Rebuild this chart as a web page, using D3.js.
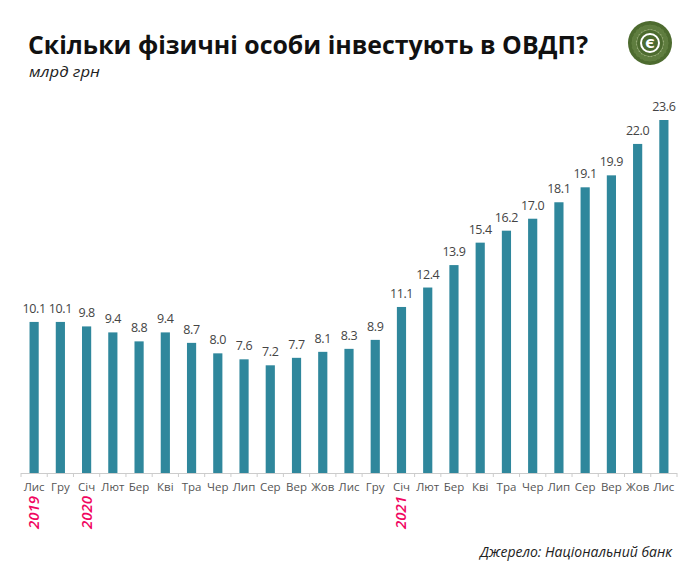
<!DOCTYPE html>
<html><head><meta charset="utf-8">
<script src="https://cdn.jsdelivr.net/npm/d3@7"></script>
<style>body{margin:0;background:#fff}svg{display:block}</style>
</head><body>
<svg id="c" width="690" height="580"></svg>
<script>
const months = ["Лис","Гру","Січ","Лют","Бер","Кві","Тра","Чер","Лип","Сер","Вер","Жов","Лис","Гру","Січ","Лют","Бер","Кві","Тра","Чер","Лип","Сер","Вер","Жов","Лис"];
const values = [10.1,10.1,9.8,9.4,8.8,9.4,8.7,8.0,7.6,7.2,7.7,8.1,8.3,8.9,11.1,12.4,13.9,15.4,16.2,17.0,18.1,19.1,19.9,22.0,23.6];
const yearLabels = [{i:0,t:"2019"},{i:2,t:"2020"},{i:14,t:"2021"}];
const title = "Скільки фізичні особи інвестують в ОВДП?";
const subtitle = "млрд грн";
const source = "Джерело: Національний банк";

const svg = d3.select("#c");
const idx = months.map((m,i)=>i);
const x = d3.scaleBand().domain(idx).range([21,677]).paddingInner(0.65).paddingOuter(0.325);
const y = d3.scaleLinear().domain([0,23.6]).range([473,120]);

svg.append("text").attr("x",28).attr("y",53.5).text(title)
  .attr("font-family","'Open Sans',sans-serif")
  .attr("font-weight","bold").attr("font-size",25).attr("fill","#111")
  .attr("textLength",560).attr("lengthAdjust","spacingAndGlyphs");
svg.append("text").attr("x",29).attr("y",77).text(subtitle)
  .attr("font-family","'Open Sans',sans-serif").attr("font-style","italic").attr("font-weight","500")
  .attr("font-size",15).attr("fill","#222")
  .attr("textLength",71).attr("lengthAdjust","spacingAndGlyphs");

// logo
const lg = svg.append("g").attr("transform","translate(650,43)");
lg.append("circle").attr("r",22).attr("fill","#4d6b2f");
lg.append("circle").attr("r",17.5).attr("fill","#9db07e");
for(let k=0;k<24;k++){const a=k*Math.PI*2/24;
  lg.append("circle").attr("cx",16*Math.cos(a)).attr("cy",16*Math.sin(a)).attr("r",2.6).attr("fill","#5f7d3f");}
lg.append("circle").attr("r",13).attr("fill","#4d6b2f");
lg.append("circle").attr("r",9).attr("fill","none").attr("stroke","#fff").attr("stroke-width",2);
lg.append("text").attr("y",5).attr("text-anchor","middle").text("Є")
  .attr("font-family","'DejaVu Sans',sans-serif").attr("font-weight","bold").attr("font-size",13).attr("fill","#fff");

// bars
svg.append("g").selectAll("rect").data(values).join("rect")
  .attr("x",(d,i)=>x(i)).attr("width",x.bandwidth())
  .attr("y",d=>y(d)).attr("height",d=>y(0)-y(d)).attr("fill","#2f879c");

svg.append("g").selectAll("text").data(values).join("text")
  .attr("x",(d,i)=>x(i)+x.bandwidth()/2).attr("y",d=>y(d)-9)
  .attr("text-anchor","middle").text(d=>d.toFixed(1))
  .attr("font-family","'Open Sans',sans-serif").attr("font-size",12.5).attr("letter-spacing","-0.4")
  .attr("fill","#444");

// axis
const ax = svg.append("g").attr("transform","translate(0,473)")
  .call(d3.axisBottom(x).tickSize(0).tickFormat(i=>months[i]));
ax.select(".domain").attr("stroke","#ccc").attr("d","M21,0.5H677");
ax.selectAll("text").attr("font-family","'Open Sans',sans-serif").attr("font-size",11.5)
  .attr("fill","#555").attr("dy",0).attr("y",18);
const step = x.step();
svg.append("g").selectAll("line").data(d3.range(26)).join("line")
  .attr("x1",k=>21+k*step).attr("x2",k=>21+k*step).attr("y1",473).attr("y2",477)
  .attr("stroke","#ccc");

svg.append("g").selectAll("text").data(yearLabels).join("text")
  .attr("transform",d=>`translate(${x(d.i)+x.bandwidth()/2+5},496) rotate(-90)`)
  .attr("text-anchor","end").text(d=>d.t)
  .attr("font-family","'Open Sans',sans-serif").attr("font-style","italic").attr("font-weight","600")
  .attr("font-size",15).attr("fill","#f0065f");

svg.append("text").attr("x",672).attr("y",557).attr("text-anchor","end").text(source)
  .attr("font-family","'Open Sans',sans-serif").attr("font-style","italic")
  .attr("font-size",14).attr("fill","#222");
</script>
</body></html>
